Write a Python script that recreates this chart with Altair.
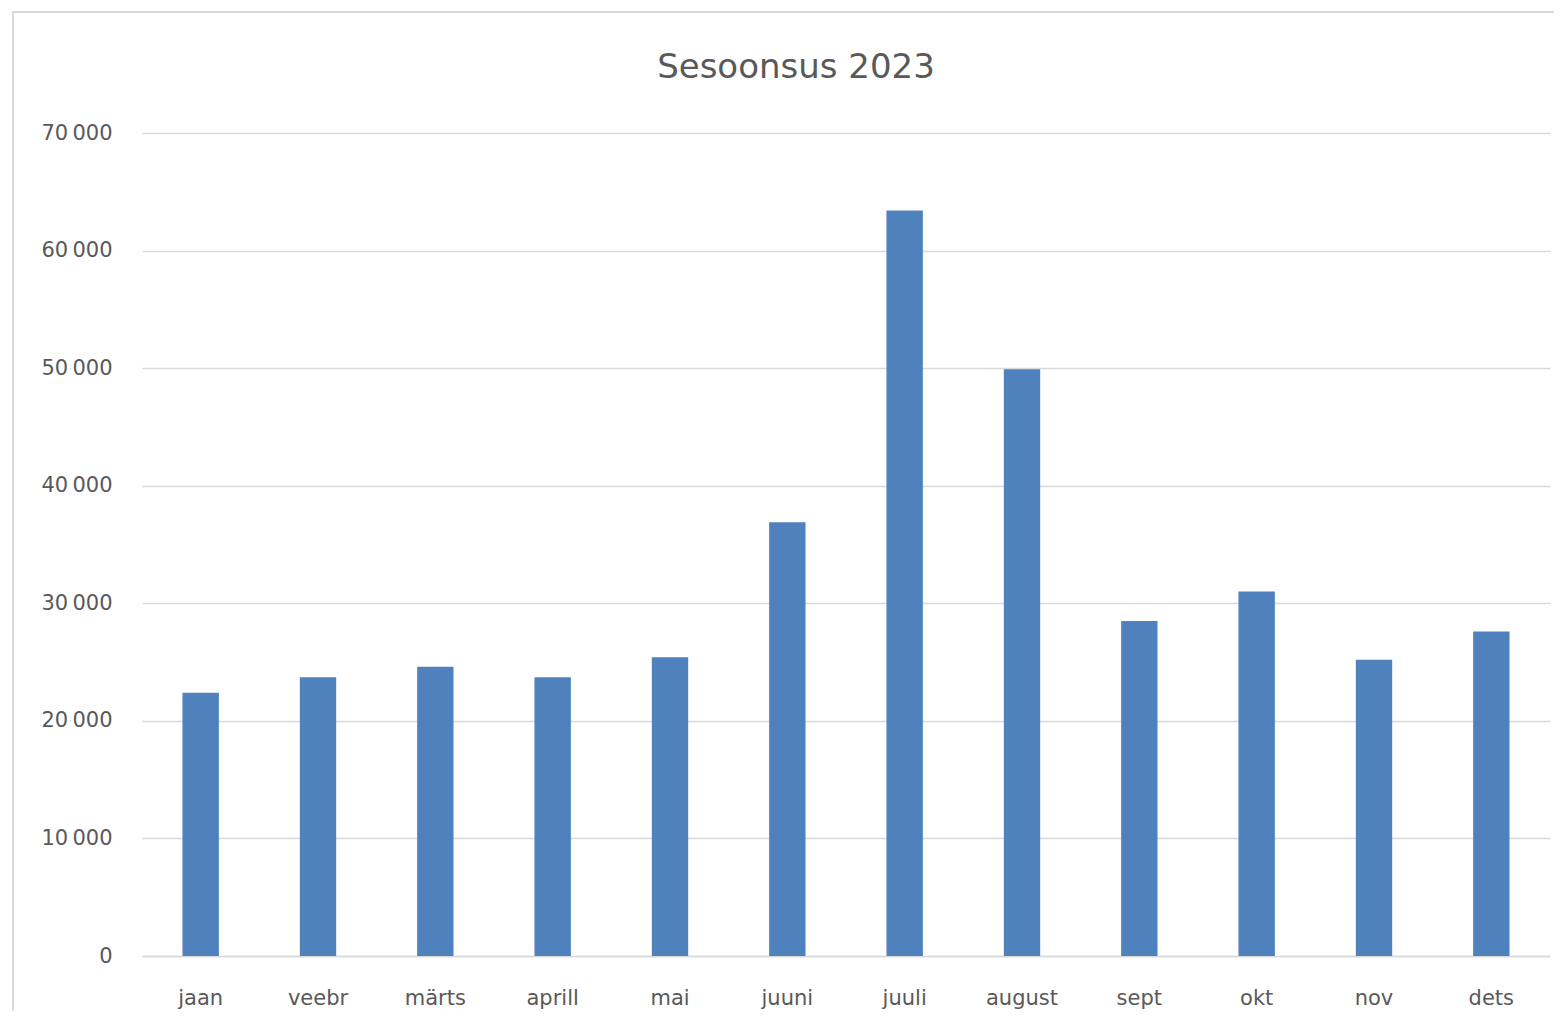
import altair as alt
import pandas as pd

months = ["jaan", "veebr", "märts", "aprill", "mai", "juuni", "juuli",
          "august", "sept", "okt", "nov", "dets"]
values = [22400, 23700, 24600, 23700, 25400, 36900, 63400,
          49900, 28500, 31000, 25200, 27600]
y_ticks = [0, 10000, 20000, 30000, 40000, 50000, 60000, 70000]
title_text = ["Sesoonsus 2023"]

df = pd.DataFrame({"month": months, "value": values})

W, H = 1408, 823
FONT = "DejaVu Sans"
GRAY = "#595959"

frame = alt.Chart(pd.DataFrame({"a": [0]})).mark_rect(
    fill=None, stroke="#d9d9d9", strokeWidth=2
).encode(
    x=alt.value(-129), x2=alt.value(W + 30),
    y=alt.value(-121), y2=alt.value(H + 80),
)

title = alt.Chart(pd.DataFrame({"t": title_text})).mark_text(
    font=FONT, fontSize=34, color=GRAY, align="center", baseline="alphabetic"
).encode(
    text="t:N", x=alt.value(654), y=alt.value(-55),
)

bars = alt.Chart(df).mark_bar(color="#4f81bd").encode(
    x=alt.X("month:N", sort=months,
            scale=alt.Scale(paddingInner=0.69, paddingOuter=0.345),
            axis=alt.Axis(title=None, labelAngle=0, labelColor=GRAY,
                          labelFont=FONT, labelFontSize=21, labelPadding=31,
                          ticks=False, domainColor="#d9d9d9", domainWidth=1.5,
                          grid=False)),
    y=alt.Y("value:Q", scale=alt.Scale(domain=[0, 70000], nice=False),
            axis=alt.Axis(title=None, values=y_ticks, labelColor=GRAY,
                          labelFont=FONT, labelFontSize=21, labelPadding=30,
                          ticks=False, domain=False, gridColor="#d9d9d9",
                          gridWidth=1.5,
                          labelExpr="replace(format(datum.value, ','), regexp(',', 'g'), '\u2009')")),
)

chart = alt.layer(frame, title, bars).properties(
    width=W, height=H,
    autosize=alt.AutoSizeParams(type="none"),
    padding={"left": 134, "top": 125, "right": 4, "bottom": 55},
).configure_view(stroke=None)

chart.save("out.html", embed_options={"renderer": "svg", "actions": False})
